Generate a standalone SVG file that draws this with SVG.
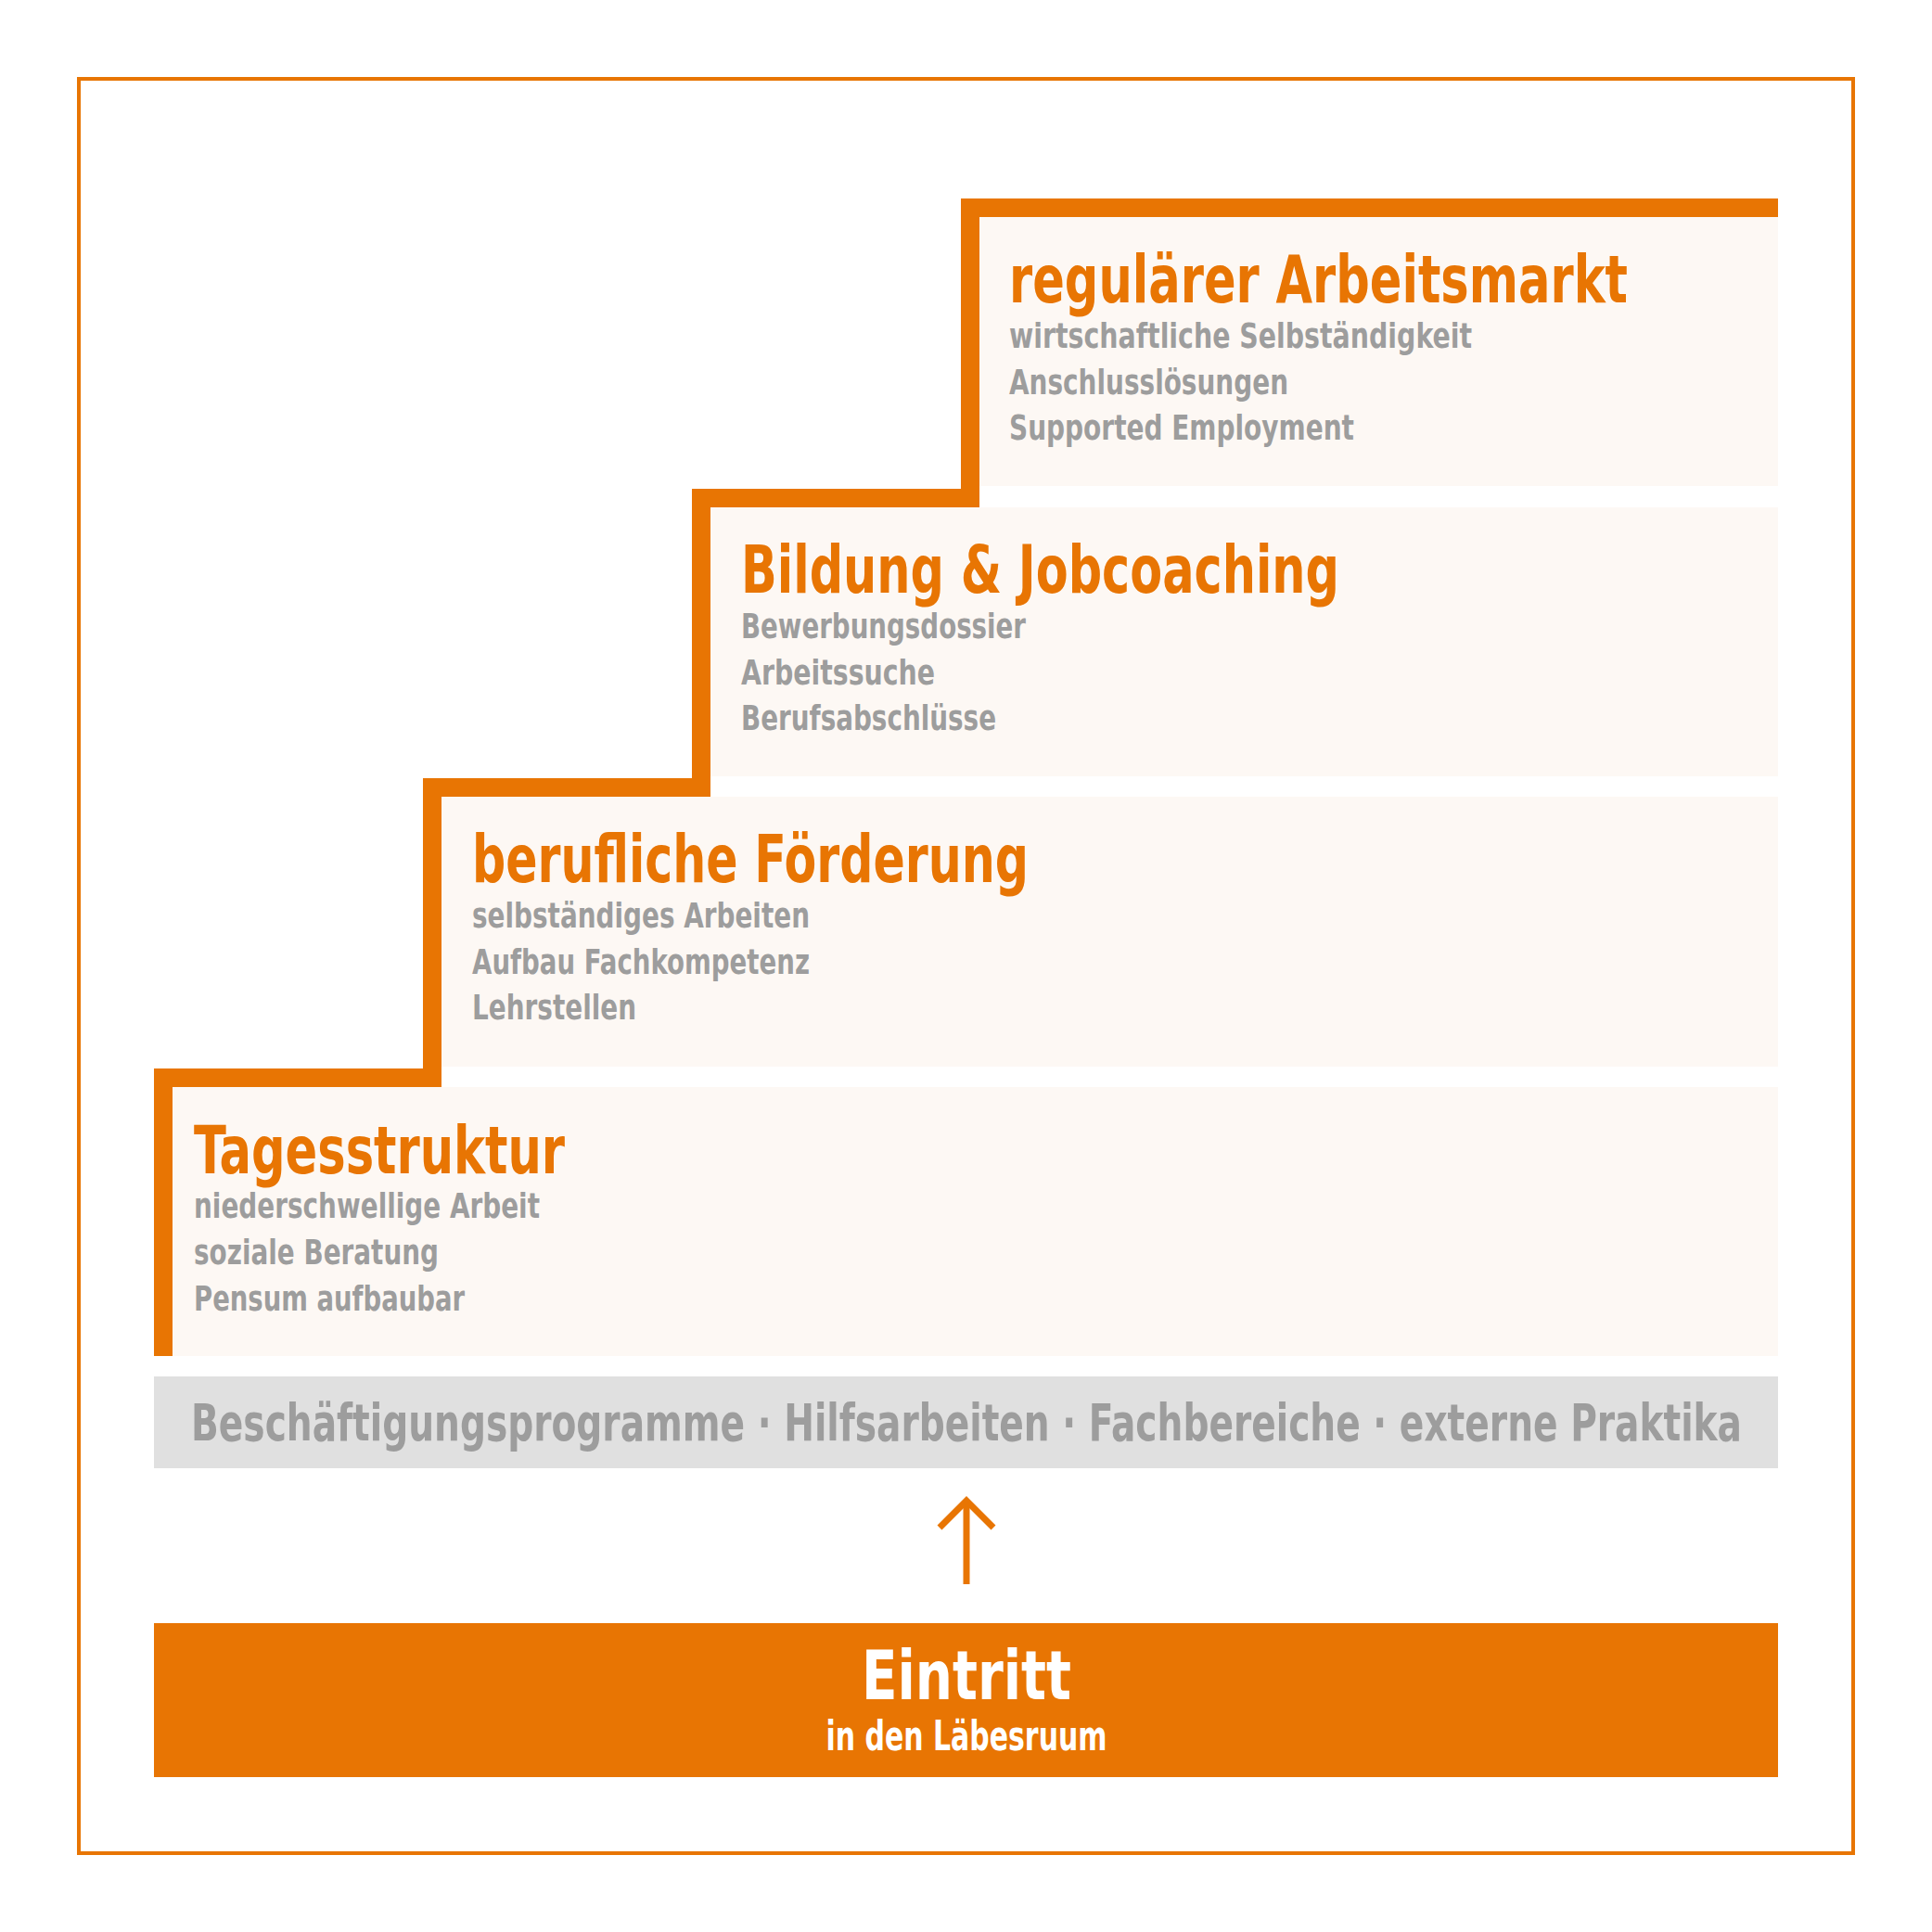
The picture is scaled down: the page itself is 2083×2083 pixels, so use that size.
<svg xmlns="http://www.w3.org/2000/svg" width="2083" height="2083" viewBox="0 0 2083 2083">
<style>
.t{font-family:"Liberation Sans Narrow","DejaVu Sans Condensed","Liberation Sans",sans-serif;font-weight:bold}
.title{fill:#E87503;font-size:72px}
.sub{fill:#9D9D9D;font-size:38px}
.box{fill:#FDF8F4}
.line{fill:none;stroke:#E87503;stroke-linejoin:miter;stroke-linecap:butt}
</style>
<rect width="2083" height="2083" fill="#FFFFFF"/>
<rect id="frame" x="85" y="85" width="1913" height="1913" fill="none" stroke="#E87503" stroke-width="4"/>

<g id="step-arbeitsmarkt">
<rect class="box" x="1056" y="234" width="861" height="290"/>
<text class="t title" x="1088" y="326" textLength="667" lengthAdjust="spacingAndGlyphs">regulärer Arbeitsmarkt</text>
<text class="t sub" x="1088" y="375" textLength="499" lengthAdjust="spacingAndGlyphs">wirtschaftliche Selbständigkeit</text>
<text class="t sub" x="1088" y="425" textLength="301" lengthAdjust="spacingAndGlyphs">Anschlusslösungen</text>
<text class="t sub" x="1088" y="474" textLength="372" lengthAdjust="spacingAndGlyphs">Supported Employment</text>
</g>

<g id="step-bildung">
<rect class="box" x="766" y="547" width="1151" height="290"/>
<text class="t title" x="799" y="639" textLength="645" lengthAdjust="spacingAndGlyphs">Bildung &amp; Jobcoaching</text>
<text class="t sub" x="799" y="688" textLength="307" lengthAdjust="spacingAndGlyphs">Bewerbungsdossier</text>
<text class="t sub" x="799" y="738" textLength="209" lengthAdjust="spacingAndGlyphs">Arbeitssuche</text>
<text class="t sub" x="799" y="787" textLength="275" lengthAdjust="spacingAndGlyphs">Berufsabschlüsse</text>
</g>

<g id="step-foerderung">
<rect class="box" x="476" y="859" width="1441" height="291"/>
<text class="t title" x="509" y="951" textLength="600" lengthAdjust="spacingAndGlyphs">berufliche Förderung</text>
<text class="t sub" x="509" y="1000" textLength="364" lengthAdjust="spacingAndGlyphs">selbständiges Arbeiten</text>
<text class="t sub" x="509" y="1050" textLength="364" lengthAdjust="spacingAndGlyphs">Aufbau Fachkompetenz</text>
<text class="t sub" x="509" y="1099" textLength="177" lengthAdjust="spacingAndGlyphs">Lehrstellen</text>
</g>

<g id="step-tagesstruktur">
<rect class="box" x="186" y="1172" width="1731" height="290"/>
<text class="t title" x="209" y="1265" textLength="400" lengthAdjust="spacingAndGlyphs">Tagesstruktur</text>
<text class="t sub" x="209" y="1313" textLength="373" lengthAdjust="spacingAndGlyphs">niederschwellige Arbeit</text>
<text class="t sub" x="209" y="1363" textLength="264" lengthAdjust="spacingAndGlyphs">soziale Beratung</text>
<text class="t sub" x="209" y="1413" textLength="292" lengthAdjust="spacingAndGlyphs">Pensum aufbaubar</text>
</g>

<g id="staircase">
<path class="line" stroke-width="20" d="M176,1462 V1162 H466 V849 H756 V537 H1046 V224 H1917"/>
</g>

<g id="programme">
<rect x="166" y="1484" width="1751" height="99" fill="#E0E0E0"/>
<text class="t" x="206" y="1553" font-size="56" fill="#9D9D9D" textLength="1672" lengthAdjust="spacingAndGlyphs">Beschäftigungsprogramme · Hilfsarbeiten · Fachbereiche · externe Praktika</text>
</g>

<g id="connectors">
<path class="line" stroke-width="7" d="M1042,1708 V1620"/>
<path class="line" stroke-width="7" d="M1013,1647 L1042,1618 L1071,1647"/>
</g>

<g id="eintritt">
<rect x="166" y="1750" width="1751" height="166" fill="#E87503"/>
<text class="t" x="1042" y="1832" font-size="73" fill="#FFFFFF" text-anchor="middle" textLength="226" lengthAdjust="spacingAndGlyphs">Eintritt</text>
<text class="t" x="1042" y="1887" font-size="44" fill="#FFFFFF" text-anchor="middle" textLength="303" lengthAdjust="spacingAndGlyphs">in den Läbesruum</text>
</g>
</svg>
